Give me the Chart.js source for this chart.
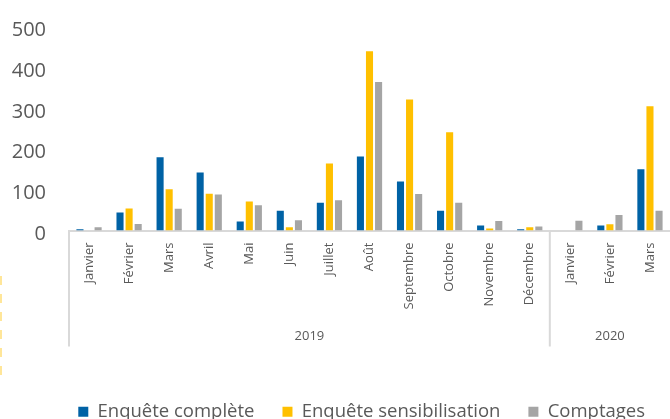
<!DOCTYPE html>
<html>
<head>
<meta charset="utf-8">
<script src="https://cdn.jsdelivr.net/npm/chart.js@4"></script>
<style>
  html, body { margin: 0; padding: 0; background: #fff; overflow: hidden; }
  #wrap { width: 670px; height: 419px; }
</style>
</head>
<body>
<div id="wrap"><canvas id="chart" width="670" height="419"></canvas></div>
<script>
const months = ['Janvier', 'Février', 'Mars', 'Avril', 'Mai', 'Juin', 'Juillet', 'Août',
    'Septembre', 'Octobre', 'Novembre', 'Décembre', 'Janvier', 'Février', 'Mars'];
const years = ['2019', '2020'];
const monthsPerYear = [12, 3];
const enqueteComplete = [3, 44, 179, 142, 22, 48, 68, 181, 120, 48, 12, 3, 0, 12, 150];
const enqueteSensib = [0, 54, 101, 90, 71, 8, 164, 438, 320, 240, 5, 8, 0, 15, 304];
const comptages = [8, 16, 53, 88, 62, 25, 74, 363, 89, 68, 23, 10, 24, 38, 48];
const yTicks = [0, 100, 200, 300, 400, 500];

const textColor = '#595959';
const lineColor = '#d9d9d9';

// year row under the month labels, with the separators
const yearGroups = {
    id: 'yearGroups',
    afterDraw(chart) {
        const x = chart.scales.x;
        const ctx = chart.ctx;
        const top = chart.chartArea.bottom;
        const bottom = top + 116;
        ctx.save();
        ctx.strokeStyle = lineColor;
        ctx.lineWidth = 2;
        ctx.fillStyle = textColor;
        ctx.font = '13px "Open Sans"';
        ctx.textAlign = 'center';
        ctx.textBaseline = 'middle';
        let start = 0;
        years.forEach((yr, i) => {
            const end = start + monthsPerYear[i] - 1;
            const left = start === 0 ? x.left :
                (x.getPixelForTick(start - 1) + x.getPixelForTick(start)) / 2;
            const right = end === months.length - 1 ? x.right :
                (x.getPixelForTick(end) + x.getPixelForTick(end + 1)) / 2;
            ctx.beginPath();
            ctx.moveTo(left, top);
            ctx.lineTo(left, bottom);
            ctx.stroke();
            ctx.fillText(yr, (left + right) / 2, top + 106);
            start = end + 1;
        });
        // dashed frame edge visible on the left of the picture
        ctx.strokeStyle = '#ffe699';
        ctx.lineWidth = 2;
        ctx.setLineDash([9, 9]);
        ctx.beginPath();
        ctx.moveTo(1, 276);
        ctx.lineTo(1, 384);
        ctx.stroke();
        ctx.restore();
    }
};

const ctx = document.getElementById('chart').getContext('2d');
new Chart(ctx, {
    type: 'bar',
    data: {
        labels: months,
        datasets: [
            { label: 'Enquête complète', data: enqueteComplete, backgroundColor: '#0062a5' },
            { label: 'Enquête sensibilisation', data: enqueteSensib, backgroundColor: '#ffc000' },
            { label: 'Comptages', data: comptages, backgroundColor: '#a5a5a5' }
        ]
    },
    options: {
        responsive: false,
        animation: false,
        layout: { padding: { top: 26, left: 0, right: -3, bottom: -12 } },
        datasets: { bar: { categoryPercentage: 0.68, barPercentage: 0.78 } },
        plugins: {
            tooltip: { enabled: false },
            legend: {
                position: 'bottom',
                align: 'end',
                labels: {
                    color: textColor,
                    font: { family: '"Open Sans"', size: 18.5 },
                    boxWidth: 10,
                    boxHeight: 10,
                    padding: 28
                }
            }
        },
        scales: {
            x: {
                grid: { display: false, drawTicks: false },
                border: { color: lineColor, width: 2 },
                ticks: {
                    color: textColor,
                    font: { family: '"Open Sans"', size: 13 },
                    minRotation: 90,
                    maxRotation: 90,
                    autoSkip: false,
                    padding: 12
                },
                afterFit(scale) {
                    scale.height = 144;
                    scale.paddingLeft = 0;
                    scale.paddingRight = 0;
                }
            },
            y: {
                min: 0,
                max: 500,
                afterBuildTicks(scale) { scale.ticks = yTicks.map(v => ({ value: v })); },
                grid: { display: false, drawTicks: false },
                border: { display: false },
                ticks: {
                    color: textColor,
                    font: { family: '"Open Sans"', size: 20 },
                    padding: 23,
                    labelOffset: 4
                },
                afterFit(scale) {
                    scale.width = 69;
                    scale.paddingTop = 0;
                    scale.paddingBottom = 0;
                }
            }
        }
    },
    plugins: [yearGroups]
});
</script>
</body>
</html>
